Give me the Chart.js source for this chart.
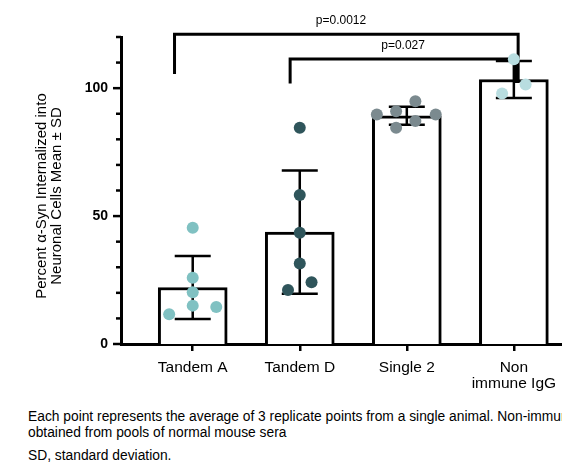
<!DOCTYPE html>
<html lang="en">
<head>
  <meta charset="UTF-8">
  <title>Synuclein uptake</title>
  <script src="https://cdn.jsdelivr.net/npm/chart.js"></script>
  <style>
    html, body { margin: 0; padding: 0; background: #fff; overflow: hidden; }
    body { width: 562px; height: 465px; position: relative; font-family: Arial, "Liberation Sans", sans-serif; }
    #graphic { position: absolute; left: 0; top: 0; }
    .note { position: absolute; left: 28px; white-space: nowrap; color: #000; font-size: 13.8px; }
    #n1 { top: 409px; line-height: 16px; }
    #n2 { top: 448px; }
  </style>
</head>
<body>
  <canvas id="graphic" width="598" height="395"></canvas>
  <div class="note" id="n1">Each point represents the average of 3 replicate points from a single animal. Non-immune IgG was<br>obtained from pools of normal mouse sera</div>
  <div class="note" id="n2">SD, standard deviation.</div>

  <script>
    // data
    const categories = ["Tandem A", "Tandem D", "Single 2", "Non\nimmune IgG"];
    const means = [22.1, 43.7, 89.2, 103.4];
    const sds = [12.3, 24.1, 3.5, 7.2];

    const tandemA = [45.4, 25.9, 20.2, 15.0, 14.5, 11.6];
    const tandemD = [84.5, 58.2, 43.5, 31.5, 24.1, 21.1];
    const single2 = [94.9, 91.0, 89.7, 89.7, 87.2, 84.5];
    const nonImmune = [111.3, 101.4, 97.9];

    const yTicks = [0, 10, 20, 30, 40, 50, 60, 70, 80, 90, 100, 110, 120];
    const yLabels = [0, 50, 100];

    const pValues = ["p=0.0012", "p=0.027"];

    // layout bits (not data)
    const spread = [
      [0, 0, 0, 0, 0.22, -0.22],
      [0, 0, 0, 0, 0.11, -0.11],
      [0.08, -0.1, -0.28, 0.27, 0.08, -0.1],
      [0, 0.11, -0.11]
    ];
    const brackets = [
      { from: -0.17, to: 3.04, y: 121.1, left: 105.5, right: 102, textX: 1.385 },
      { from: 0.91, to: 3.02, y: 111.4, left: 101.8, right: 102, textX: 1.965 }
    ];
    const colors = ["#80c1c2", "#2f555b", "#7b8a8f", "#b8dde0"];

    const groups = [tandemA, tandemD, single2, nonImmune];

    const pointSets = groups.map((vals, g) => ({
      type: "scatter",
      order: 1,
      data: vals.map((v, i) => ({ x: g + spread[g][i], y: v })),
      backgroundColor: colors[g],
      borderWidth: 0,
      pointRadius: 6,
      pointHoverRadius: 6
    }));

    const extras = {
      id: "extras",
      afterDatasetDraw(chart, args) {
        if (args.index !== 0) return;
        const x = chart.scales.x, y = chart.scales.y;
        const ctx = chart.ctx;
        ctx.save();
        ctx.strokeStyle = "#000";
        ctx.lineWidth = 2.5;
        // error bars
        means.forEach((m, i) => {
          const cx = x.getPixelForValue(i);
          const top = y.getPixelForValue(m + sds[i]);
          const bot = y.getPixelForValue(m - sds[i]);
          ctx.beginPath();
          ctx.moveTo(cx, top); ctx.lineTo(cx, bot);
          ctx.moveTo(cx - 18, top); ctx.lineTo(cx + 18, top);
          ctx.moveTo(cx - 18, bot); ctx.lineTo(cx + 18, bot);
          ctx.stroke();
        });
        // significance brackets
        ctx.lineWidth = 3;
        ctx.fillStyle = "#000";
        ctx.font = "12px Arial, 'Liberation Sans'";
        ctx.textAlign = "center";
        ctx.textBaseline = "middle";
        brackets.forEach((b, i) => {
          const x1 = x.getPixelForValue(b.from), x2 = x.getPixelForValue(b.to);
          const yy = y.getPixelForValue(b.y);
          ctx.beginPath();
          ctx.moveTo(x1, y.getPixelForValue(b.left));
          ctx.lineTo(x1, yy);
          ctx.lineTo(x2, yy);
          ctx.lineTo(x2, y.getPixelForValue(b.right));
          ctx.stroke();
          ctx.fillText(pValues[i], x.getPixelForValue(b.textX), yy - 13);
        });
        ctx.restore();
      },
      afterDraw(chart) {
        const y = chart.scales.y;
        const left = chart.chartArea.left;
        const ctx = chart.ctx;
        ctx.save();
        ctx.strokeStyle = "#000";
        ctx.lineWidth = 2.5;
        yTicks.forEach(t => {
          const py = y.getPixelForValue(t);
          const len = yLabels.includes(t) ? 8 : 5;
          ctx.beginPath();
          ctx.moveTo(left - len, py); ctx.lineTo(left, py);
          ctx.stroke();
        });
        // y axis title
        ctx.translate(0, 196);
        ctx.rotate(-Math.PI / 2);
        ctx.fillStyle = "#000";
        ctx.font = "15px Arial, 'Liberation Sans'";
        ctx.textAlign = "center";
        ctx.textBaseline = "middle";
        ctx.fillText("Percent \u03b1-Syn Internalized into", 0, 42);
        ctx.fillText("Neuronal Cells Mean \u00b1 SD", 0, 57);
        ctx.restore();
      }
    };

    new Chart(document.getElementById("graphic"), {
      data: {
        datasets: [
          {
            type: "bar",
            order: 2,
            data: means.map((m, i) => ({ x: i, y: m })),
            backgroundColor: "#fff",
            borderColor: "#000",
            borderWidth: 3,
            borderSkipped: "bottom",
            barThickness: 69
          },
          ...pointSets
        ]
      },
      options: {
        responsive: false,
        animation: false,
        events: [],
        layout: { padding: { top: 37, left: 0, right: 0, bottom: 0 } },
        plugins: { legend: { display: false }, tooltip: { enabled: false } },
        scales: {
          x: {
            type: "linear",
            offset: false,
            min: -0.67,
            max: 3.73,
            afterBuildTicks: s => { s.ticks = categories.map((c, i) => ({ value: i })); },
            afterFit: s => { s.height = 51; },
            grid: { offset: false, drawOnChartArea: false, color: "#000", lineWidth: 2.5, tickLength: 7 },
            border: { color: "#000", width: 3 },
            ticks: {
              color: "#000",
              padding: 9,
              maxRotation: 0,
              autoSkip: false,
              font: { family: "Arial, 'Liberation Sans'", size: 15.5, lineHeight: 1 },
              callback: v => categories[v].split("\n")
            }
          },
          y: {
            min: 0,
            max: 120,
            afterFit: s => { s.width = 121; },
            grid: { display: false, drawTicks: false },
            border: { color: "#000", width: 3 },
            ticks: {
              stepSize: 50,
              color: "#000",
              padding: 13,
              font: { family: "Arial, 'Liberation Sans'", size: 14, weight: "bold" },
              callback: v => yLabels.includes(v) ? String(v) : null
            }
          }
        }
      },
      plugins: [extras]
    });
  </script>
</body>
</html>
